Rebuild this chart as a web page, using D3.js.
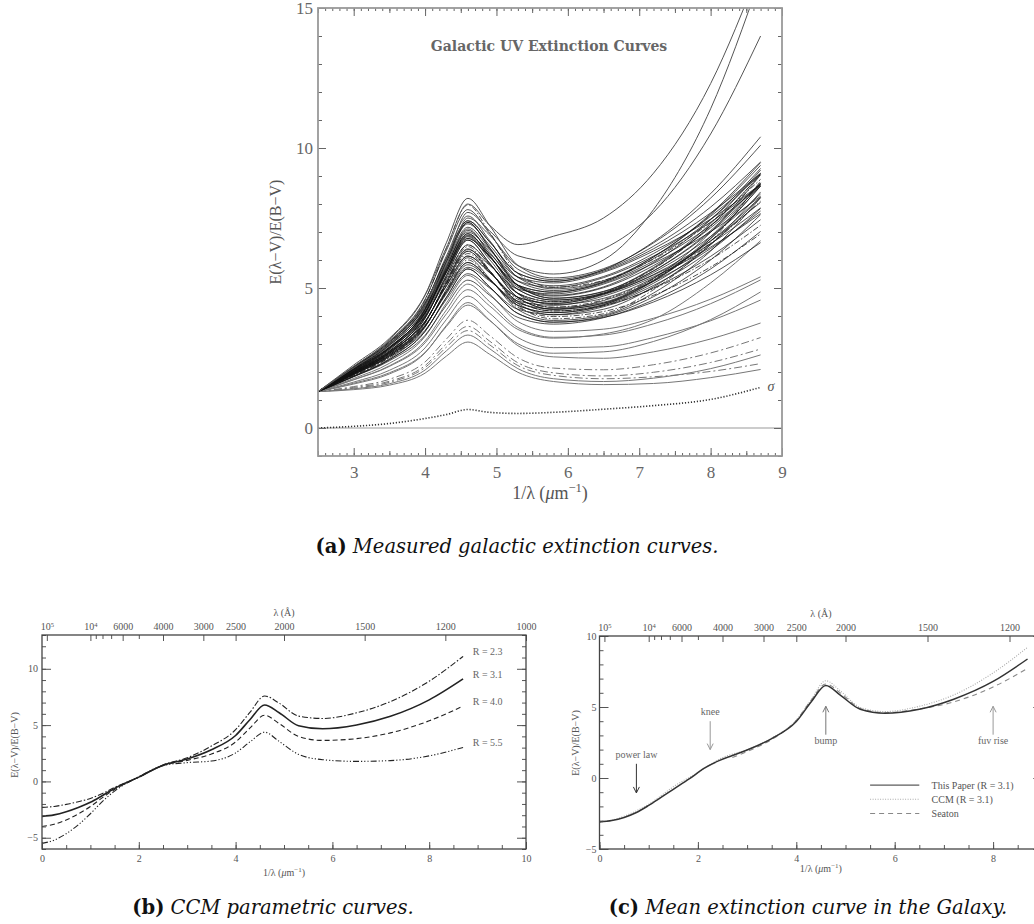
<!DOCTYPE html>
<html>
<head>
<meta charset="utf-8">
<script src="https://cdn.jsdelivr.net/npm/d3@7"></script>
<style>
  body { margin: 0; background: #fff; }
  svg { display: block; }
</style>
</head>
<body>
<svg id="fig" width="1034" height="924"></svg>
<script>
// ---------- panel (a): measured galactic extinction curves ----------
const xGridA = [2.5, 3.0, 3.5, 4.0, 4.3, 4.6, 4.9, 5.3, 5.8, 6.5, 7.2, 8.0, 8.7];

// the dense band of sight lines
const bandCurves = [
  [1.3, 1.83, 2.40, 3.31, 4.39, 5.28, 4.75, 3.95, 3.71, 3.94, 4.57, 5.68, 7.02],
  [1.3, 1.84, 2.44, 3.45, 4.67, 5.68, 5.05, 4.09, 3.78, 3.99, 4.69, 6.00, 7.62],
  [1.3, 1.86, 2.48, 3.60, 4.96, 6.08, 5.35, 4.23, 3.84, 4.03, 4.82, 6.32, 8.22],
  [1.3, 1.87, 2.53, 3.74, 5.24, 6.48, 5.64, 4.37, 3.90, 4.08, 4.94, 6.65, 8.82],
  [1.3, 1.84, 2.44, 3.45, 4.67, 5.68, 5.05, 4.09, 3.78, 3.95, 4.50, 5.47, 6.62],
  [1.3, 1.91, 2.54, 3.49, 4.60, 5.51, 5.01, 4.24, 4.05, 4.33, 5.00, 6.13, 7.44],
  [1.3, 1.92, 2.58, 3.63, 4.88, 5.91, 5.31, 4.38, 4.12, 4.37, 5.09, 6.34, 7.84],
  [1.3, 1.94, 2.62, 3.78, 5.17, 6.31, 5.61, 4.52, 4.18, 4.41, 5.17, 6.55, 8.24],
  [1.3, 1.95, 2.67, 3.92, 5.45, 6.71, 5.90, 4.66, 4.24, 4.45, 5.26, 6.77, 8.64],
  [1.3, 1.96, 2.71, 4.06, 5.74, 7.11, 6.20, 4.80, 4.30, 4.49, 5.34, 6.99, 9.04],
  [1.3, 1.94, 2.62, 3.78, 5.17, 6.31, 5.61, 4.52, 4.18, 4.37, 4.98, 6.02, 7.24],
  [1.3, 1.92, 2.58, 3.63, 4.88, 5.91, 5.31, 4.38, 4.12, 4.40, 5.24, 6.76, 8.64],
  [1.3, 1.98, 2.67, 3.67, 4.80, 5.74, 5.26, 4.53, 4.38, 4.71, 5.40, 6.46, 7.66],
  [1.3, 1.99, 2.71, 3.81, 5.08, 6.14, 5.56, 4.67, 4.45, 4.76, 5.48, 6.68, 8.06],
  [1.3, 2.01, 2.75, 3.96, 5.37, 6.54, 5.86, 4.81, 4.51, 4.79, 5.55, 6.84, 8.36],
  [1.3, 2.02, 2.80, 4.10, 5.65, 6.94, 6.15, 4.95, 4.57, 4.83, 5.61, 7.00, 8.66],
  [1.3, 2.03, 2.84, 4.24, 5.94, 7.34, 6.45, 5.09, 4.63, 4.87, 5.70, 7.22, 9.06],
  [1.3, 2.01, 2.75, 3.96, 5.37, 6.54, 5.86, 4.81, 4.51, 4.82, 5.68, 7.21, 9.06],
  [1.3, 2.02, 2.80, 4.10, 5.65, 6.94, 6.15, 4.95, 4.57, 4.80, 5.46, 6.58, 7.86],
  [1.3, 1.99, 2.71, 3.81, 5.08, 6.14, 5.56, 4.67, 4.45, 4.79, 5.61, 7.05, 8.76],
  [1.3, 2.07, 2.85, 3.99, 5.29, 6.37, 5.82, 4.96, 4.79, 5.14, 5.88, 7.01, 8.28],
  [1.3, 2.09, 2.89, 4.14, 5.58, 6.77, 6.12, 5.10, 4.85, 5.18, 5.96, 7.23, 8.68],
  [1.3, 2.10, 2.94, 4.28, 5.86, 7.17, 6.41, 5.24, 4.91, 5.22, 6.05, 7.45, 9.08],
  [1.3, 2.11, 2.98, 4.42, 6.15, 7.57, 6.71, 5.38, 4.97, 5.26, 6.11, 7.61, 9.38],
  [1.3, 2.12, 3.03, 4.57, 6.43, 7.97, 7.00, 5.52, 5.03, 5.27, 6.03, 7.34, 8.88],
  [1.3, 2.09, 2.89, 4.14, 5.58, 6.77, 6.12, 5.10, 4.85, 5.21, 6.11, 7.65, 9.48],
  [1.3, 2.16, 3.02, 4.32, 5.78, 7.00, 6.37, 5.39, 5.18, 5.56, 6.32, 7.46, 8.70],
  [1.3, 2.17, 3.07, 4.46, 6.06, 7.40, 6.66, 5.53, 5.24, 5.60, 6.40, 7.68, 9.10],
  [1.3, 2.18, 3.11, 4.60, 6.35, 7.80, 6.96, 5.67, 5.30, 5.64, 6.49, 7.89, 9.50],
  [1.3, 2.19, 3.16, 4.75, 6.63, 8.20, 7.25, 5.81, 5.36, 5.69, 6.61, 8.21, 10.10],
  [1.3, 2.17, 3.07, 4.46, 6.06, 7.40, 6.66, 5.53, 5.24, 5.65, 6.65, 8.37, 10.40],
  [1.3, 1.97, 2.67, 3.80, 5.13, 6.23, 5.59, 4.60, 4.32, 4.58, 5.32, 6.59, 8.10],
  [1.3, 2.06, 2.85, 4.12, 5.62, 6.86, 6.14, 5.03, 4.71, 5.01, 5.80, 7.15, 8.72],
  [1.3, 1.91, 2.58, 3.76, 5.21, 6.40, 5.63, 4.45, 4.04, 4.24, 5.04, 6.55, 8.43],
  [1.3, 1.99, 2.74, 4.01, 5.55, 6.83, 6.03, 4.81, 4.41, 4.63, 5.36, 6.68, 8.25],
  [1.3, 2.12, 2.96, 4.23, 5.68, 6.89, 6.24, 5.25, 5.02, 5.37, 6.14, 7.35, 8.69],
  [1.3, 2.06, 2.87, 4.19, 5.76, 7.06, 6.29, 5.10, 4.74, 5.04, 5.91, 7.44, 9.27],
  [1.3, 2.04, 2.85, 4.24, 5.95, 7.34, 6.46, 5.09, 4.64, 4.88, 5.73, 7.30, 9.21],
  [1.3, 1.89, 2.53, 3.62, 4.92, 6.00, 5.33, 4.31, 3.98, 4.16, 4.74, 5.75, 6.93],
  [1.3, 2.14, 3.00, 4.37, 5.97, 7.29, 6.54, 5.39, 5.08, 5.41, 6.23, 7.56, 9.09],
  [1.3, 1.95, 2.67, 3.92, 5.45, 6.71, 5.90, 4.66, 4.24, 4.46, 5.28, 6.83, 8.74],
  [1.3, 1.95, 2.63, 3.65, 4.84, 5.83, 5.29, 4.46, 4.25, 4.55, 5.24, 6.41, 7.75]
];

// weaker-bump sight lines below the band (last three drawn dashed)
const lowCurves = [
  [1.3, 1.37, 1.53, 1.96, 2.57, 3.07, 2.64, 1.99, 1.66, 1.55, 1.59, 1.80, 2.09],
  [1.3, 1.40, 1.58, 2.07, 2.76, 3.32, 2.84, 2.12, 1.76, 1.66, 1.78, 2.12, 2.61],
  [1.3, 1.57, 1.93, 2.68, 3.67, 4.48, 3.86, 2.94, 2.54, 2.49, 2.72, 3.18, 3.75],
  [1.3, 1.64, 2.06, 2.86, 3.88, 4.71, 4.11, 3.23, 2.87, 2.90, 3.23, 3.83, 4.57],
  [1.3, 1.60, 1.97, 2.70, 3.63, 4.39, 3.85, 3.01, 2.67, 2.72, 3.09, 3.87, 4.86],
  [1.3, 1.73, 2.22, 3.11, 4.22, 5.14, 4.52, 3.59, 3.24, 3.32, 3.72, 4.44, 5.29],
  [1.3, 1.77, 2.31, 3.27, 4.47, 5.45, 4.80, 3.80, 3.45, 3.53, 3.92, 4.60, 5.40],
  [1.3, 1.72, 2.20, 3.04, 4.08, 4.94, 4.37, 3.52, 3.21, 3.36, 3.88, 5.18, 6.69],
  [1.3, 1.45, 1.67, 2.23, 3.01, 3.63, 3.11, 2.33, 1.97, 1.86, 1.99, 2.34, 2.82],
  [1.3, 1.48, 1.74, 2.36, 3.18, 3.85, 3.31, 2.51, 2.14, 2.08, 2.26, 2.68, 3.23],
  [1.3, 1.42, 1.63, 2.16, 2.89, 3.48, 2.98, 2.23, 1.88, 1.76, 1.83, 2.02, 2.30]
];

// sight lines with a very steep far-UV rise
const steepCurves = [
  [1.3, 2.25, 3.20, 4.75, 6.45, 8.00, 7.25, 6.55, 6.85, 7.50, 9.10, 12.30, 16.50],
  [1.3, 2.20, 3.10, 4.50, 6.00, 7.70, 7.05, 6.15, 5.95, 6.40, 7.70, 10.50, 14.00],
  [1.3, 2.15, 3.00, 4.40, 5.80, 7.50, 6.90, 5.80, 5.50, 6.00, 7.80, 11.40, 16.10]
];

// dispersion of the sample
const sigmaCurve = [0.0, 0.06, 0.16, 0.34, 0.48, 0.66, 0.56, 0.52, 0.56, 0.67, 0.80, 1.02, 1.45];

// ---------- panel (b): CCM curves ----------
const xGridB = [0, 0.25, 0.5, 0.75, 1.0, 1.25, 1.5, 2.0, 2.5, 3.0, 3.5, 4.0, 4.3, 4.6, 4.9, 5.3, 5.8, 6.5, 7.2, 8.0, 8.7];
const ccmR23 = [-2.30, -2.22, -2.04, -1.80, -1.51, -1.07, -0.53, 0.37, 1.46, 2.10, 3.14, 4.59, 6.16, 7.58, 6.95, 5.80, 5.59, 6.09, 7.09, 8.90, 11.10];
const ccmR31 = [-3.10, -2.97, -2.69, -2.31, -1.85, -1.25, -0.62, 0.38, 1.44, 1.99, 2.81, 4.08, 5.50, 6.78, 6.10, 4.95, 4.67, 5.01, 5.78, 7.24, 9.10];
const ccmR40 = [-4.00, -3.81, -3.42, -2.89, -2.23, -1.44, -0.71, 0.39, 1.42, 1.87, 2.43, 3.50, 4.76, 5.87, 5.14, 3.99, 3.64, 3.80, 4.31, 5.38, 6.69];
const ccmR55 = [-5.50, -5.22, -4.64, -3.85, -2.87, -1.77, -0.86, 0.42, 1.40, 1.67, 1.81, 2.53, 3.52, 4.37, 3.55, 2.40, 1.93, 1.78, 1.85, 2.27, 3.02];
const ccmLabels = ["R = 2.3", "R = 3.1", "R = 4.0", "R = 5.5"];

// ---------- panel (c): mean curve ----------
const xGridC = [0, 0.25, 0.5, 0.75, 1.0, 1.25, 1.5, 1.83, 2.14, 2.43, 2.7, 3.0, 3.5, 4.0, 4.3, 4.6, 4.9, 5.3, 5.8, 6.5, 7.2, 8.0, 8.7];
const meanCurve = [-3.10, -3.00, -2.78, -2.43, -1.93, -1.37, -0.80, -0.05, 0.71, 1.22, 1.58, 1.97, 2.78, 3.98, 5.35, 6.52, 5.82, 4.84, 4.56, 4.84, 5.55, 6.80, 8.38];
const ccmMean = [-3.10, -2.97, -2.69, -2.31, -1.85, -1.25, -0.62, 0.38, 1.44, 1.99, 2.81, 4.08, 5.50, 6.85, 6.12, 4.97, 4.68, 5.05, 5.85, 7.40, 9.20];
const seatonX = [2.7, 3.0, 3.5, 3.65, 4.0, 4.3, 4.6, 4.9, 5.3, 5.8, 6.5, 7.14, 8.0, 8.7];
const seaton = [1.45, 1.86, 2.71, 3.04, 4.06, 5.47, 6.62, 5.98, 4.90, 4.60, 4.86, 5.30, 6.41, 7.72];
const legendC = ["This Paper (R = 3.1)", "CCM (R = 3.1)", "Seaton"];
const notesC = [
  { label: "power law", x: 0.75, textY: 1.65, from: 1.0, to: -1.05 },
  { label: "knee", x: 2.25, textY: 4.65, from: 4.0, to: 2.0 },
  { label: "bump", x: 4.6, textY: 2.65, from: 3.05, to: 5.05 },
  { label: "fuv rise", x: 8.0, textY: 2.65, from: 3.05, to: 5.05 }
];

// wavelength ticks of the top axes (Angstrom)
const lambdaMajor = [100000, 10000, 6000, 4000, 3000, 2500, 2000, 1500, 1200, 1000];
const lambdaMinor = [9000, 8000, 7000, 5000];

// ================================================================
const svg = d3.select("#fig");
const serif = "'Liberation Serif', 'DejaVu Serif', serif";
const capFont = "'DejaVu Serif', serif";

function tickRow(g, make, scale, values, size, transform, fmt, pad, fs, col) {
  const a = make(scale).tickValues(values).tickSizeInner(-size).tickSizeOuter(0)
      .tickPadding(pad || 3).tickFormat(fmt || (() => ""));
  const s = g.append("g").attr("transform", transform).call(a);
  s.select(".domain").remove();
  s.selectAll("line").attr("stroke", col).attr("stroke-width", 1);
  s.selectAll("text").attr("font-family", serif).attr("font-size", fs).attr("fill", col);
  return s;
}

function unitLabel(g, x, y, fs, col) {
  const t = g.append("text").attr("x", x).attr("y", y).attr("text-anchor", "middle")
      .attr("font-family", serif).attr("font-size", fs).attr("fill", col);
  t.append("tspan").text("1/\u03bb (");
  t.append("tspan").attr("font-style", "italic").text("\u03bc");
  t.append("tspan").text("m");
  t.append("tspan").attr("dy", -fs * 0.4).attr("font-size", fs * 0.7).text("\u22121");
  t.append("tspan").attr("dy", fs * 0.4).text(")");
}

function yLabel(g, x, y, fs, col) {
  g.append("text").attr("transform", `translate(${x},${y}) rotate(-90)`)
    .attr("text-anchor", "middle").attr("font-family", serif).attr("font-size", fs)
    .attr("fill", col).text("E(\u03bb\u2212V)/E(B\u2212V)");
}

function lambdaAxis(g, x, top, col) {
  const xmax = x.domain()[1];
  const maj = lambdaMajor.map(l => 1e4 / l).filter(v => v <= xmax + 1e-9);
  const min = lambdaMinor.map(l => 1e4 / l);
  tickRow(g, d3.axisTop, x, min, 4, `translate(0,${top})`, null, 3, 10, col);
  const s = tickRow(g, d3.axisTop, x, maj, 6, `translate(0,${top})`, d => d, 5.5, 10, col);
  s.selectAll("text").each(function (d) {
    const lam = Math.round(1e4 / d);
    const t = d3.select(this).text("");
    if (lam >= 10000) {
      t.append("tspan").text("10");
      t.append("tspan").attr("dy", "-0.45em").attr("font-size", "0.65em").text(Math.round(Math.log10(lam)));
    } else {
      t.text(lam);
    }
  });
  const mid = (x.range()[0] + x(xmax)) / 2;
  g.append("text").attr("x", mid).attr("y", top - 19).attr("text-anchor", "middle")
    .attr("font-family", serif).attr("font-size", 10).attr("fill", col).text("\u03bb (\u00c5)");
}

function caption(x, y, tag, rest) {
  const t = svg.append("text").attr("x", x).attr("y", y).attr("text-anchor", "middle")
      .attr("font-family", capFont).attr("font-size", 19.5).attr("fill", "#111");
  t.append("tspan").attr("font-weight", "bold").text(tag);
  t.append("tspan").attr("font-style", "italic").text(" " + rest);
}

// ---------------- panel (a) ----------------
const xA = d3.scaleLinear().domain([2.5, 9]).range([318, 782]);
const yA = d3.scaleLinear().domain([-1, 15]).range([456, 8]);
const gA = svg.append("g");
const colA = "#666";

gA.append("clipPath").attr("id", "clipA").append("rect")
  .attr("x", xA(2.5)).attr("y", yA(15))
  .attr("width", xA(9) - xA(2.5)).attr("height", yA(-1) - yA(15));
const plotA = gA.append("g").attr("clip-path", "url(#clipA)");

plotA.append("line").attr("x1", xA(2.5)).attr("x2", xA(9))
  .attr("y1", yA(0)).attr("y2", yA(0)).attr("stroke", "#999").attr("stroke-width", 1.2);

const lineA = d3.line().x((d, i) => xA(xGridA[i])).y(d => yA(d)).curve(d3.curveMonotoneX);

plotA.selectAll("path.low").data(lowCurves).join("path").attr("class", "low")
  .attr("d", lineA).attr("fill", "none").attr("stroke", "#777").attr("stroke-width", 1)
  .attr("stroke-dasharray", (d, i) => i >= lowCurves.length - 3 ? "8,3,2,3" : null);

plotA.selectAll("path.band").data(bandCurves).join("path").attr("class", "band")
  .attr("d", lineA).attr("fill", "none").attr("stroke", "#111").attr("stroke-width", 0.9)
  .attr("stroke-opacity", 0.8)
  .attr("stroke-dasharray", (d, i) => i % 7 === 3 ? "6,2,1.5,2" : null);

plotA.selectAll("path.steep").data(steepCurves).join("path").attr("class", "steep")
  .attr("d", lineA).attr("fill", "none").attr("stroke", "#555").attr("stroke-width", 1);

plotA.append("path").datum(sigmaCurve).attr("d", lineA).attr("fill", "none")
  .attr("stroke", "#333").attr("stroke-width", 1.6).attr("stroke-dasharray", "1.2,1.8");

gA.append("text").attr("x", xA(8.7) + 7).attr("y", yA(sigmaCurve[sigmaCurve.length - 1]) + 4)
  .attr("font-family", serif).attr("font-style", "italic").attr("font-size", 14)
  .attr("fill", "#555").text("\u03c3");

// ticks (a)
const minorXA = d3.range(25, 91).map(v => v / 10);
const midXA = d3.range(5, 19).map(v => v / 2).filter(v => v >= 2.5 && v <= 9 && v % 1 !== 0);
const majorXA = [3, 4, 5, 6, 7, 8, 9];
const minorYA = d3.range(-1, 16);
const majorYA = [0, 5, 10, 15];
[[d3.axisBottom, yA(-1)], [d3.axisTop, yA(15)]].forEach(([mk, pos], k) => {
  tickRow(gA, mk, xA, minorXA, 3, `translate(0,${pos})`, null, 3, 17, colA);
  tickRow(gA, mk, xA, midXA, 5, `translate(0,${pos})`, null, 3, 17, colA);
  tickRow(gA, mk, xA, majorXA, 8, `translate(0,${pos})`, k === 0 ? d3.format("d") : null, 10, 17, colA);
});
[[d3.axisLeft, xA(2.5)], [d3.axisRight, xA(9)]].forEach(([mk, pos], k) => {
  tickRow(gA, mk, yA, minorYA, 4, `translate(${pos},0)`, null, 5, 17, colA);
  tickRow(gA, mk, yA, majorYA, 8, `translate(${pos},0)`, k === 0 ? d3.format("d") : null, 5, 17, colA);
});
gA.append("rect").attr("x", xA(2.5)).attr("y", yA(15))
  .attr("width", xA(9) - xA(2.5)).attr("height", yA(-1) - yA(15))
  .attr("fill", "none").attr("stroke", "#999").attr("stroke-width", 1.8);

gA.append("text").attr("x", 549).attr("y", 51).attr("text-anchor", "middle")
  .attr("font-family", "'DejaVu Serif', serif").attr("font-weight", "bold")
  .attr("font-size", 14).attr("fill", "#666")
  .text("Galactic UV Extinction Curves");
unitLabel(gA, (xA(2.5) + xA(9)) / 2, 499, 18, "#555");
yLabel(gA, 281, (yA(-1) + yA(15)) / 2, 16, "#555");

caption(517, 553, "(a)", "Measured galactic extinction curves.");

// ---------------- panel (b) ----------------
const xB = d3.scaleLinear().domain([0, 10]).range([42, 526]);
const yB = d3.scaleLinear().domain([-6, 13]).range([849, 635]);
const gB = svg.append("g");
const colB = "#555";
const lineB = d3.line().x((d, i) => xB(xGridB[i])).y(d => yB(d)).curve(d3.curveMonotoneX);
const ccmSets = [ccmR23, ccmR31, ccmR40, ccmR55];
const ccmDash = ["6,2,1.5,2", null, "5,3", "6,2,1.2,2,1.2,2,1.2,2"];

gB.selectAll("path.ccm").data(ccmSets).join("path").attr("class", "ccm")
  .attr("d", lineB).attr("fill", "none").attr("stroke", "#222")
  .attr("stroke-width", (d, i) => i === 1 ? 1.6 : 1.1)
  .attr("stroke-dasharray", (d, i) => ccmDash[i]);

gB.selectAll("text.rlab").data(ccmSets).join("text").attr("class", "rlab")
  .attr("x", xB(8.9)).attr("y", d => yB(d[d.length - 1]) - 1)
  .attr("font-family", serif).attr("font-size", 10).attr("fill", "#666")
  .text((d, i) => ccmLabels[i]);

tickRow(gB, d3.axisBottom, xB, d3.range(0, 21).map(v => v / 2), 4, `translate(0,${yB(-6)})`, null, 3, 10, colB);
tickRow(gB, d3.axisBottom, xB, [0, 2, 4, 6, 8, 10], 7, `translate(0,${yB(-6)})`, d3.format("d"), 5.5, 10, colB);
[[d3.axisLeft, xB(0)], [d3.axisRight, xB(10)]].forEach(([mk, pos], k) => {
  tickRow(gB, mk, yB, d3.range(-6, 14), 4, `translate(${pos},0)`, null, 4, 10, colB);
  tickRow(gB, mk, yB, [-5, 0, 5, 10], 9, `translate(${pos},0)`, k === 0 ? d3.format("d") : null, 4, 10, colB);
});
lambdaAxis(gB, xB, yB(13), colB);
gB.append("rect").attr("x", xB(0)).attr("y", yB(13))
  .attr("width", xB(10) - xB(0)).attr("height", yB(-6) - yB(13))
  .attr("fill", "none").attr("stroke", "#444").attr("stroke-width", 1.3);
unitLabel(gB, (xB(0) + xB(10)) / 2, 876, 10, colB);
yLabel(gB, 18, 745, 10, colB);

caption(273, 914, "(b)", "CCM parametric curves.");

// ---------------- panel (c) ----------------
const xC = d3.scaleLinear().domain([0, 9]).range([599.5, 1042.3]);
const yC = d3.scaleLinear().domain([-5, 10]).range([849, 636]);
const gC = svg.append("g");
const colC = "#555";

const lineSeaton = d3.line().x((d, i) => xC(seatonX[i])).y(d => yC(d)).curve(d3.curveMonotoneX);
const lineCcmC = d3.line().x((d, i) => xC(xGridB[i])).y(d => yC(d)).curve(d3.curveMonotoneX);
const lineMean = d3.line().x((d, i) => xC(xGridC[i])).y(d => yC(d)).curve(d3.curveMonotoneX);

const styleC = [
  { stroke: "#333", width: 1.5, dash: null },
  { stroke: "#aaa", width: 1.1, dash: "1,1.5" },
  { stroke: "#888", width: 1.1, dash: "5,4" }
];
gC.append("path").datum(ccmMean).attr("d", lineCcmC).attr("fill", "none")
  .attr("stroke", styleC[1].stroke).attr("stroke-width", styleC[1].width).attr("stroke-dasharray", styleC[1].dash);
gC.append("path").datum(seaton).attr("d", lineSeaton).attr("fill", "none")
  .attr("stroke", styleC[2].stroke).attr("stroke-width", styleC[2].width).attr("stroke-dasharray", styleC[2].dash);
gC.append("path").datum(meanCurve).attr("d", lineMean).attr("fill", "none")
  .attr("stroke", styleC[0].stroke).attr("stroke-width", styleC[0].width);

// legend
legendC.forEach((name, i) => {
  const yy = yC(-0.5 - i);
  gC.append("line").attr("x1", xC(5.5)).attr("x2", xC(6.5)).attr("y1", yy).attr("y2", yy)
    .attr("stroke", styleC[i].stroke).attr("stroke-width", i === 0 ? 1 : styleC[i].width)
    .attr("stroke-dasharray", styleC[i].dash);
  gC.append("text").attr("x", xC(6.75)).attr("y", yy + 3.5)
    .attr("font-family", serif).attr("font-size", 10).attr("fill", "#555").text(name);
});

// annotations
const noteCol = ["#333", "#999", "#777", "#999"];
notesC.forEach((n, i) => {
  const px = xC(n.x), y1 = yC(n.from), y2 = yC(n.to);
  const dir = y2 > y1 ? 1 : -1;
  gC.append("line").attr("x1", px).attr("x2", px).attr("y1", y1).attr("y2", y2)
    .attr("stroke", noteCol[i]).attr("stroke-width", 1);
  gC.append("path").attr("d", `M${px - 3},${y2 - dir * 6}L${px},${y2}L${px + 3},${y2 - dir * 6}`)
    .attr("fill", "none").attr("stroke", noteCol[i]).attr("stroke-width", 1);
  gC.append("text").attr("x", px).attr("y", yC(n.textY) + 3.5).attr("text-anchor", "middle")
    .attr("font-family", serif).attr("font-size", 10).attr("fill", "#666").text(n.label);
});

tickRow(gC, d3.axisBottom, xC, d3.range(0, 19).map(v => v / 2), 4, `translate(0,${yC(-5)})`, null, 3, 10, colC);
tickRow(gC, d3.axisBottom, xC, [0, 2, 4, 6, 8], 7, `translate(0,${yC(-5)})`, d3.format("d"), 5.5, 10, colC);
[[d3.axisLeft, xC(0)], [d3.axisRight, xC(9)]].forEach(([mk, pos], k) => {
  tickRow(gC, mk, yC, d3.range(-5, 11), 4, `translate(${pos},0)`, null, 3, 10, colC);
  tickRow(gC, mk, yC, [-5, 0, 5, 10], 9, `translate(${pos},0)`, k === 0 ? d3.format("d") : null, 3, 10, colC);
});
lambdaAxis(gC, xC, yC(10), colC);
gC.append("rect").attr("x", xC(0)).attr("y", yC(10))
  .attr("width", xC(9) - xC(0)).attr("height", yC(-5) - yC(10))
  .attr("fill", "none").attr("stroke", "#444").attr("stroke-width", 1.3);
unitLabel(gC, (xC(0) + xC(9)) / 2, 872, 10, colC);
yLabel(gC, 579, 743, 10, colC);

caption(808, 914, "(c)", "Mean extinction curve in the Galaxy.");
</script>
</body>
</html>
